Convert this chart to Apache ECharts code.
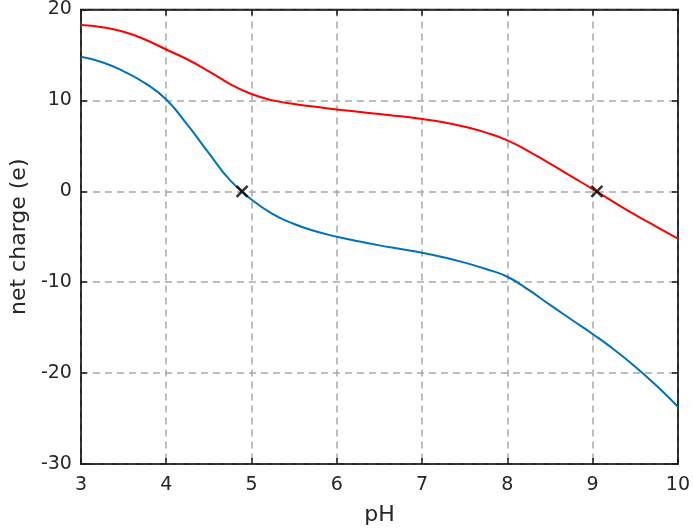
<!DOCTYPE html>
<html><head><meta charset="utf-8">
<script src="https://cdn.jsdelivr.net/npm/echarts@6/dist/echarts.min.js"></script>
<style>html,body{margin:0;padding:0;background:#fff}#c{width:693px;height:531px}</style>
</head><body><div id="c"></div>
<script>
var pH = [3, 3.25, 3.5, 3.75, 4, 4.25, 4.5, 4.75, 5, 5.25, 5.5, 5.75, 6, 6.25, 6.5, 6.75, 7, 7.25, 7.5, 7.75, 8, 8.25, 8.5, 8.75, 9, 9.25, 9.5, 9.75, 10];
var redCharge = [18.3, 18.05, 17.55, 16.7, 15.6, 14.5, 13.2, 11.8, 10.7, 10.0, 9.6, 9.3, 9.0, 8.75, 8.5, 8.25, 7.95, 7.6, 7.1, 6.45, 5.6, 4.4, 3.05, 1.65, 0.25, -1.2, -2.6, -3.9, -5.2];
var blueCharge = [14.8, 14.2, 13.2, 11.9, 10.1, 7.3, 4.2, 1.2, -0.9, -2.5, -3.6, -4.4, -5.0, -5.5, -5.95, -6.35, -6.75, -7.25, -7.85, -8.55, -9.4, -10.85, -12.5, -14.1, -15.7, -17.4, -19.3, -21.4, -23.7];
var isoPoints = [[4.89, 0], [9.05, 0]];
var xTicks = {min: 3, max: 10, step: 1};
var yTicks = {min: -30, max: 20, step: 10};

function pairs(xs, ys) { return xs.map(function (x, i) { return [x, ys[i]]; }); }

var font = 'DejaVu Sans, Liberation Sans, Arial, sans-serif';
var gridLine = {show: true, lineStyle: {color: '#a8a8a8', width: 1.5, type: [7, 5]}};
var axisLn = {show: true, onZero: false, lineStyle: {color: '#1a1a1a', width: 1.5}};
var tick = {show: true, inside: true, length: 6, lineStyle: {color: '#1a1a1a', width: 1.5}};
var chart = echarts.init(document.getElementById('c'), null, {renderer: 'canvas'});
chart.setOption({
  animation: false,
  grid: {left: 72, right: 12, top: 9, bottom: 66, show: true, borderColor: '#1a1a1a', borderWidth: 1.5, backgroundColor: '#fff'},
  xAxis: [{
    type: 'value', min: xTicks.min, max: xTicks.max, interval: xTicks.step,
    name: 'pH', nameLocation: 'middle', nameGap: 40,
    nameTextStyle: {fontFamily: font, fontSize: 22, color: '#262626'},
    axisLine: axisLn, axisTick: tick,
    axisLabel: {fontFamily: font, fontSize: 19, color: '#262626', margin: 12},
    splitLine: gridLine
  }, {
    type: 'value', position: 'top', min: xTicks.min, max: xTicks.max, interval: xTicks.step,
    axisLine: axisLn, axisTick: tick,
    axisLabel: {show: false}, splitLine: {show: false}
  }],
  yAxis: [{
    type: 'value', min: yTicks.min, max: yTicks.max, interval: yTicks.step,
    name: 'net charge (e)', nameLocation: 'middle', nameGap: 47, nameRotate: 90,
    nameTextStyle: {fontFamily: font, fontSize: 22, color: '#262626'},
    axisLine: axisLn, axisTick: tick,
    axisLabel: {fontFamily: font, fontSize: 19, color: '#262626', margin: 9},
    splitLine: gridLine
  }, {
    type: 'value', position: 'right', min: yTicks.min, max: yTicks.max, interval: yTicks.step,
    axisLine: axisLn, axisTick: tick,
    axisLabel: {show: false}, splitLine: {show: false}
  }],
  series: [{
    type: 'line', data: pairs(pH, redCharge), smooth: 0.5, showSymbol: false,
    lineStyle: {color: '#ff0000', width: 2}, z: 3
  }, {
    type: 'line', data: pairs(pH, blueCharge), smooth: 0.5, showSymbol: false,
    lineStyle: {color: '#0072bd', width: 2}, z: 3
  }, {
    type: 'scatter', data: isoPoints, symbol: 'path://M0,0L10,10M10,0L0,10', symbolSize: 11,
    itemStyle: {color: 'none', borderColor: '#000', borderWidth: 2.5}, z: 5
  }]
});
</script></body></html>
